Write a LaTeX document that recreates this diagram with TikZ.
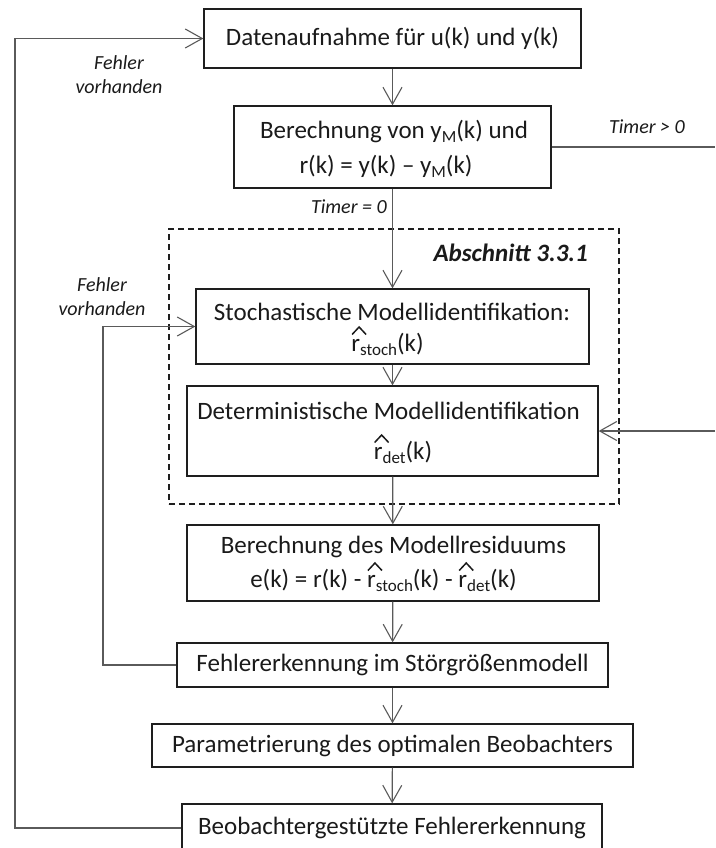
\documentclass[tikz,border=0pt]{standalone}
\usepackage{fontspec}
\setmainfont{Carlito}
\usetikzlibrary{arrows.meta}

\definecolor{boxc}{HTML}{1E1E1E}
\definecolor{linec}{HTML}{5A5A5A}
\definecolor{txtc}{HTML}{1A1A1A}

% lowered, smaller subscript
\newcommand\subtxt[1]{\raisebox{-0.16em}{\fontsize{17}{17}\selectfont #1}}
% r with a wide caret above it
\newcommand\hatr{\leavevmode\rlap{\smash{\tikz[baseline=0pt,x=1em,y=1em]\draw[line width=0.06em,draw=txtc,line join=miter] (0.0,0.66) -- (0.28,0.96) -- (0.56,0.66);}}r}

\begin{document}
\begin{tikzpicture}[x=1pt,y=-1pt,
  every node/.style={text=txtc},
  box/.style={draw=boxc, line width=1.3pt, align=center, inner sep=0pt,
    font=\fontsize{25}{31}\selectfont},
  txt/.style={font=\fontsize{25}{31}\selectfont, inner sep=0pt, anchor=base},
  conn/.style={draw=linec, line width=1.2pt},
  arr/.style={conn, -{Straight Barb[length=17pt,width=19pt,line width=1.1pt]}},
  lbl/.style={font=\fontsize{20}{24}\selectfont\itshape, align=center, inner sep=0pt},
  group/.style={draw=boxc, line width=1.1pt, dash pattern=on 6pt off 4pt, inner sep=0pt}
]
\useasboundingbox (0,0) rectangle (715,848);
\clip (0,0) rectangle (715,848);

% dashed frame around the identification steps
\node[group, minimum width=450pt, minimum height=275pt] (sec) at (394,366.5) {};
\node[font=\fontsize{25}{30}\selectfont\bfseries\itshape, anchor=east, inner sep=0pt] (sectitle) at (588,253) {Abschnitt 3.3.1};

% process steps
\node[box, minimum width=377pt, minimum height=59pt] (A) at (392.5,38.5)
  {Datenaufnahme für u(k) und y(k)};
\node[box, minimum width=317pt, minimum height=82pt] (B) at (392.5,147) {};
\node[txt] (B1) at (394,139) {Berechnung von y\subtxt{M}(k) und};
\node[txt] (B2) at (386,173) {r(k) = y(k) – y\subtxt{M}(k)};

\node[box, minimum width=393pt, minimum height=75pt] (C) at (392.5,326.5) {};
\node[txt] (C1) at (392,320) {Stochastische Modellidentifikation:};
\node[txt] (C2) at (387.5,351) {\hatr\subtxt{stoch}(k)};

\node[box, minimum width=411pt, minimum height=90pt] (D) at (392.5,431) {};
\node[txt] (D1) at (388.5,419) {Deterministische Modellidentifikation};
\node[txt] (D2) at (403,459) {\hatr\subtxt{det}(k)};

\node[box, minimum width=412pt, minimum height=76pt] (E) at (393,563) {};
\node[txt] (E1) at (393.5,553) {Berechnung des Modellresiduums};
\node[txt] (E2) at (383.5,587) {e(k) = r(k) - \hatr\subtxt{stoch}(k) - \hatr\subtxt{det}(k)};

\node[box, minimum width=431pt, minimum height=44pt] (F) at (392.5,665)
  {Fehlererkennung im Störgrößenmodell};
\node[box, minimum width=481pt, minimum height=43pt] (G) at (392.5,745.5)
  {Parametrierung des optimalen Beobachters};
\node[box, minimum width=420pt, minimum height=48pt] (H) at (392,828)
  {Beobachtergestützte Fehlererkennung};

% branch labels
\node[lbl] (fv1) at (119,75) {Fehler\\vorhanden};
\node[lbl] (fv2) at (102,297) {Fehler\\vorhanden};
\node[lbl] (t1) at (647,127) {Timer > 0};
\node[lbl, anchor=east] (t0) at (387,207) {Timer = 0};

% auxiliary coordinates for the feedback loops and the right edge
\coordinate (outerx) at (15,0);
\coordinate (innerx) at (103,0);
\coordinate (rightx) at (715,0);

% main flow
\draw[arr] (A) -- (B);
\draw[arr] (B) -- (C);
\draw[arr] (C) -- (D);
\draw[arr] (D) -- (E);
\draw[arr] (E) -- (F);
\draw[arr] (F) -- (G);
\draw[arr] (G) -- (H);

% timer branch leaving and re-entering at the right
\draw[conn] (B.east) -- (B.east -| rightx);
\draw[arr] (D.east -| rightx) -- (D.east);

% feedback loops
\draw[arr] (F.west) -- (F.west -| innerx) |- (C.west);
\draw[arr] (H.west) -- (H.west -| outerx) |- (A.west);
\end{tikzpicture}
\end{document}
